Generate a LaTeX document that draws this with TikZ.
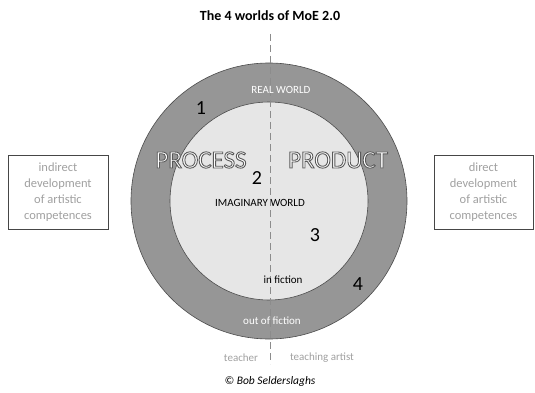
\documentclass[tikz,border=0pt]{standalone}
\usepackage{fontspec}
\setmainfont{Carlito}
\newcommand{\outlinetext}[1]{{\color{white}\special{pdf:literal direct 2 Tr 0.9 w 0.35 G}#1\special{pdf:literal direct 0 Tr}}}
\definecolor{ringgray}{RGB}{150,150,150}
\definecolor{innergray}{RGB}{230,230,230}
\definecolor{txtgray}{RGB}{160,160,160}
\definecolor{edgegray}{RGB}{70,70,70}
\begin{document}
\begin{tikzpicture}[x=1pt,y=-1pt,
  sidebox/.style={draw=edgegray,line width=0.9pt,minimum width=100pt,minimum height=74pt,align=center,text=txtgray,font=\fontsize{12.5}{16}\selectfont,inner sep=2pt},
  bignum/.style={font=\fontsize{20}{20}\selectfont,text=black},
  worldlbl/.style={font=\fontsize{11}{12}\selectfont},
  outl/.style={font=\fontsize{25}{25}\selectfont}]
\useasboundingbox (0,0) rectangle (535,393);
\coordinate (c) at (269,201);
\fill[ringgray,draw=black!70,line width=0.6pt] (c) circle (138);
\fill[innergray,draw=black!70,line width=0.6pt] (c) circle (99);
\coordinate (dtop) at (270,34);
\coordinate (dbot) at (270,364);
\draw[black!45,dash pattern=on 7pt off 4pt,line width=0.9pt] (dtop) -- (dbot);
\node[font=\bfseries\fontsize{14}{15}\selectfont] (title) at (270,16) {The 4 worlds of MoE 2.0};
\node[worldlbl,text=white] (real) at (281,90) {REAL WORLD};
\node[bignum] (n1) at (201,108) {1};
\node[outl] (process) at (201,160) {\outlinetext{PROCESS}};
\node[outl] (product) at (338,160) {\outlinetext{PRODUCT}};
\node[bignum] (n2) at (257,178) {2};
\node[worldlbl] (imag) at (260,203) {IMAGINARY WORLD};
\node[bignum] (n3) at (315,235) {3};
\node[font=\fontsize{11}{12}\selectfont] (infic) at (283,280) {in fiction};
\node[bignum] (n4) at (358,284) {4};
\node[font=\fontsize{11}{12}\selectfont,text=white] (outfic) at (272,321) {out of fiction};
\node[font=\fontsize{11}{12}\selectfont,text=txtgray] (teacher) at (241,358) {teacher};
\node[font=\fontsize{11}{12}\selectfont,text=txtgray] (tartist) at (322,358) {teaching artist};
\node[font=\itshape\fontsize{11.5}{12}\selectfont] (copy) at (270,381) {\textcopyright\ Bob Selderslaghs};
\node[sidebox] (left) at (58,192) {indirect\\development\\of artistic\\competences};
\node[sidebox,minimum width=99pt] (right) at (483.5,192) {direct\\development\\of artistic\\competences};
\end{tikzpicture}
\end{document}
